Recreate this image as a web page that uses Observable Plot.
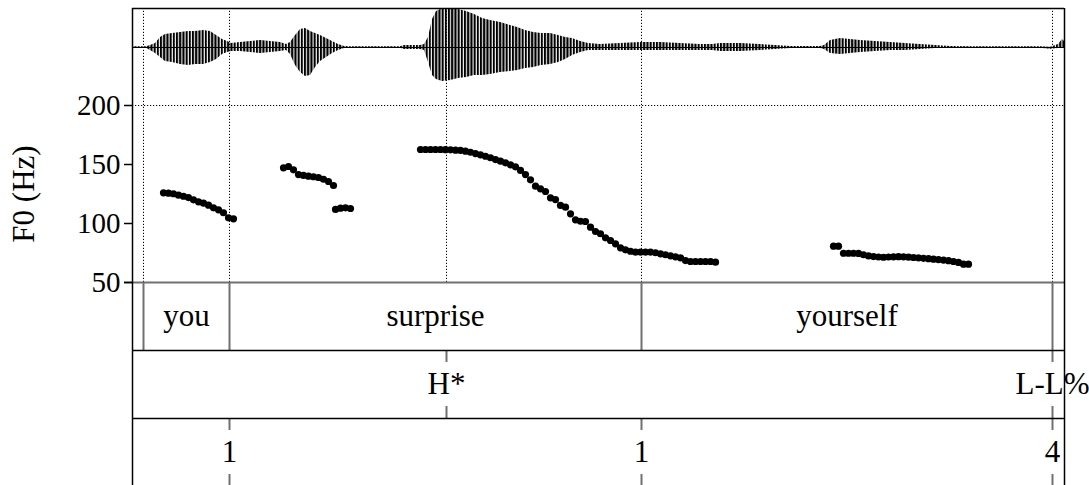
<!DOCTYPE html>
<html><head><meta charset="utf-8">
<script src="https://cdn.jsdelivr.net/npm/d3@7"></script>
<script src="https://cdn.jsdelivr.net/npm/@observablehq/plot@0.6"></script>
<style>
html,body{margin:0;padding:0;background:#fff;overflow:hidden;}
#chart{position:relative;width:1089px;height:485px;overflow:hidden;}
#chart svg{position:absolute;left:0;}
</style></head><body><div id="chart"></div>
<script>
// ---------- data ----------
const duration = 1.864;          // seconds shown
const frameStep = 0.01;          // F0 analysis hop (s)
const wordLabels = ["you", "surprise", "yourself"];
const wordStarts = [0.022, 0.194, 1.018];
const wordEnds   = [0.194, 1.018, 1.840];
const toneLabels = ["H*", "L-L%"];
const toneTimes  = [0.628, 1.840];
const breakLabels = ["1", "1", "4"];
const breakTimes  = [0.194, 1.018, 1.840];
const f0Ticks = [50, 100, 150, 200];
const f0Starts = [0.062, 0.302, 0.406, 0.576, 1.402];
const f0Seg1 = [126.0,125.7,125.2,124.0,123.1,122.0,120.1,118.4,117.2,115.5,113.3,111.6,109.1,104.8,104.0];
const f0Seg2 = [147.2,148.3,145.5,141.5,140.7,140.1,139.6,139.0,137.5,135.6,132.2];
const f0Seg3 = [111.9,113.0,113.3,112.7];
const f0Seg4 = [162.7,162.7,162.7,162.7,162.7,162.6,162.4,162.1,161.9,161.3,
                160.4,159.3,158.2,157.0,155.7,154.2,152.8,151.4,149.7,148.0,
                145.0,141.5,137.0,131.6,129.4,127.1,121.8,120.3,115.3,113.8,
                108.2,103.1,101.9,101.7,96.9,93.2,91.3,87.9,85.6,82.8,
                79.4,77.7,76.5,75.7,75.7,75.7,75.7,75.2,74.3,73.5,
                72.6,71.8,70.9,68.6,67.8,67.8,67.8,67.8,67.8,67.2];
const f0Seg5 = [80.8,80.8,74.8,74.8,74.8,74.6,73.5,72.5,72.0,71.6,
                71.4,71.6,71.8,71.9,71.8,71.5,71.2,70.9,70.5,70.2,
                69.8,69.4,69.0,68.5,67.8,67.0,65.5,65.5];
// waveform envelope (time s, upper, lower amplitude)
const waveT  = [0,0.028,0.036,0.046,0.056,0.066,0.080,0.096,0.112,0.126,0.142,0.156,0.168,0.180,0.190,0.198,
  0.216,0.236,0.256,0.276,0.296,0.308,0.316,0.326,0.336,0.346,0.356,0.366,0.376,0.388,0.400,0.412,0.424,0.436,
  0.536,0.544,0.576,0.584,0.592,0.600,0.608,0.620,0.636,0.652,0.668,0.684,0.700,0.716,0.736,0.756,0.770,0.786,
  0.802,0.818,0.836,0.852,0.866,0.880,0.896,0.912,0.936,0.976,1.016,1.056,1.096,1.136,1.160,1.176,1.216,1.256,
  1.286,1.316,1.376,1.384,1.396,1.416,1.436,1.456,1.486,1.516,1.546,1.576,1.606,1.636,1.676,1.816,1.836,1.852,1.860,1.864];
const waveHi = [0.7,0.7,2,4,10,13,14,15,16,16,17,16,12,8,6,4,
  5,6,7,6,5,3,5,12,18,19,16,14,12,9,6,3,1,0.7,
  0.7,2,2,3,10,28,36,39,39,38,36,33,29,27,25,22,20,17,
  15,14,14,12,10,9,6,4,3,4,5,5,4,3,3,4,4,3,
  2,1,1,2,7,9,8,7,6,5,4,3,2,1,0.7,0.7,0.3,3,8,6];
const waveLo = [-0.7,-0.7,-3,-6,-10,-14,-15,-17,-18,-17,-17,-15,-12,-7,-5,-4,
  -4,-5,-6,-5,-4,-3,-7,-18,-25,-29,-28,-20,-14,-10,-6,-3,-1,-0.7,
  -0.7,-2,-2,-3,-15,-28,-32,-34,-33,-31,-30,-28,-28,-27,-25,-24,-23,-21,
  -20,-18,-17,-15,-12,-8,-5,-3,-3,-3,-3,-3,-3,-3,-3,-4,-4,-3,
  -2,-1,-1,-2,-6,-7,-6,-5,-4,-3,-3,-2,-1,-1,-0.7,-0.7,-1.8,-1,-1,0];

// ---------- derived tables ----------
const f0Segments = [f0Seg1, f0Seg2, f0Seg3, f0Seg4, f0Seg5];
const f0Points = f0Segments.flatMap((vals, s) => vals.map((hz, i) => ({t: f0Starts[s] + i * frameStep, hz})));
const wave = waveT.map((t, i) => ({t, hi: waveHi[i], lo: waveLo[i]}));
const words = wordLabels.map((label, i) => ({label, mid: (wordStarts[i] + wordEnds[i]) / 2}));
const wordBounds = [...new Set([...wordStarts, ...wordEnds])];
const tones = toneLabels.map((label, i) => ({label, t: toneTimes[i]}));
const breaks = breakLabels.map((label, i) => ({label, t: breakTimes[i]}));
const markTimes = [wordStarts[0], wordStarts[1], toneTimes[0], wordStarts[2], wordEnds[2]];

// ---------- layout / style ----------
const W = 1089, ML = 132, MR = 25;
const font = "'Liberation Serif', 'Times New Roman', serif";
const dotted = "1.2,1.8";
const grey = "#707070";
const f0Top = 50 + 274 * 50 / 59;   // value at top of frame
const yLabelHz = 125;              // vertical centre of the y-axis title
const tickLen = 12 / 68;           // tier tick length (tier units)
const chart = document.getElementById("chart");
const baseStyle = {fontFamily: font, background: "transparent", overflow: "visible"};

// F0 panel
const f0Plot = Plot.plot({
  width: W, height: 300, marginLeft: ML, marginRight: MR, marginTop: 8, marginBottom: 18,
  style: {...baseStyle, fontSize: "29px"},
  x: {domain: [0, duration], axis: null},
  y: {domain: [50, f0Top]},
  marks: [
    Plot.ruleY([200], {stroke: "black", strokeWidth: 1, strokeDasharray: dotted}),
    Plot.ruleX(markTimes, {y1: 50, y2: f0Top, stroke: "black", strokeWidth: 1, strokeDasharray: dotted}),
    Plot.ruleY([50], {x1: -0.016, x2: duration, stroke: grey, strokeWidth: 2}),
    Plot.ruleY([f0Top], {stroke: "black", strokeWidth: 1.5}),
    Plot.ruleX([0, duration], {y1: 50, y2: f0Top, stroke: "black", strokeWidth: 1.5}),
    Plot.axisY({ticks: f0Ticks, tickSize: 8, tickPadding: 4, label: null, fontSize: 29, strokeWidth: 1.5, tickFormat: d => d}),
    Plot.dot(f0Points, {x: "t", y: "hz", r: 3.6, fill: "black", stroke: "none"}),
    Plot.text(["F0 (Hz)"], {x: 0, y: yLabelHz, text: d => d, dx: -108, rotate: -90, fontSize: 31, fill: "black"})
  ]
});
f0Plot.style.top = "0px";
chart.appendChild(f0Plot);

// waveform overlay
const wavePlot = Plot.plot({
  width: W, height: 90, marginLeft: ML, marginRight: MR, marginTop: 8, marginBottom: 4,
  style: baseStyle,
  x: {domain: [0, duration], axis: null},
  y: {domain: [-39, 39], axis: null},
  marks: [
    Plot.ruleY([0], {stroke: "black", strokeWidth: 1.2}),
    Plot.areaY(wave, {x: "t", y1: "lo", y2: "hi", fill: "url(#wavestripes)", curve: "linear"})
  ]
});
const ns = "http://www.w3.org/2000/svg";
const defs = document.createElementNS(ns, "defs");
const pat = document.createElementNS(ns, "pattern");
pat.setAttribute("id", "wavestripes");
pat.setAttribute("patternUnits", "userSpaceOnUse");
pat.setAttribute("width", "3.2");
pat.setAttribute("height", "100");
const stripe = document.createElementNS(ns, "rect");
stripe.setAttribute("width", "2.1");
stripe.setAttribute("height", "100");
stripe.setAttribute("fill", "black");
pat.appendChild(stripe);
defs.appendChild(pat);
wavePlot.insertBefore(defs, wavePlot.firstChild);
wavePlot.style.top = "0px";
chart.appendChild(wavePlot);

// tiers
const tierPlot = Plot.plot({
  width: W, height: 206, marginLeft: ML, marginRight: MR, marginTop: 0, marginBottom: 2,
  style: {...baseStyle, fontSize: "31px"},
  x: {domain: [0, duration], axis: null},
  y: {domain: [0, 3], reverse: true, axis: null},
  marks: [
    Plot.ruleX(wordBounds, {y1: 0, y2: 1, stroke: grey, strokeWidth: 2}),
    Plot.ruleX(toneTimes, {y1: 1, y2: 1 + tickLen, stroke: grey, strokeWidth: 2}),
    Plot.ruleX(toneTimes, {y1: 2 - tickLen, y2: 2, stroke: grey, strokeWidth: 2}),
    Plot.ruleX(breakTimes, {y1: 2, y2: 2 + tickLen, stroke: grey, strokeWidth: 2}),
    Plot.ruleX(breakTimes, {y1: 3 - tickLen, y2: 3, stroke: grey, strokeWidth: 2}),
    Plot.ruleY([1, 2], {stroke: "black", strokeWidth: 1.5}),
    Plot.ruleX([0, duration], {y1: 0, y2: 3, stroke: "black", strokeWidth: 1.5}),
    Plot.text(words, {x: "mid", y: 0.5, text: "label", fontSize: 31, fill: "black"}),
    Plot.text(tones, {x: "t", y: 1.5, text: "label", fontSize: 31, fill: "black"}),
    Plot.text(breaks, {x: "t", y: 2.5, text: "label", fontSize: 31, fill: "black"})
  ]
});
tierPlot.style.top = "282px";
chart.appendChild(tierPlot);
</script></body></html>
